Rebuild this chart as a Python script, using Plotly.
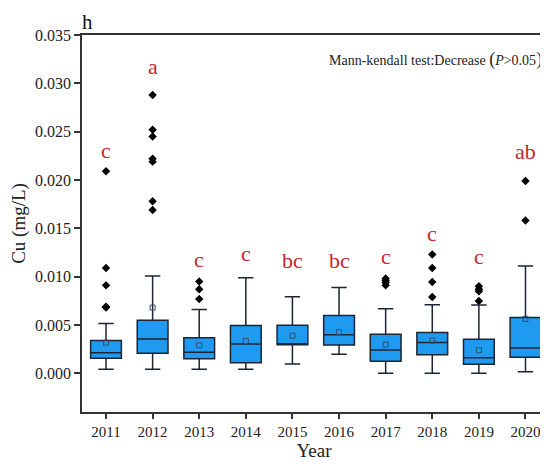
import plotly.graph_objects as go

years = ["2011", "2012", "2013", "2014", "2015", "2016", "2017", "2018", "2019", "2020"]
q1 = [0.00156, 0.00208, 0.00152, 0.00110, 0.00296, 0.00294, 0.00125, 0.00193, 0.00093, 0.00166]
median = [0.00214, 0.00356, 0.00218, 0.00304, 0.00296, 0.00398, 0.00242, 0.00318, 0.00162, 0.00263]
q3 = [0.00339, 0.00550, 0.00367, 0.00494, 0.00498, 0.00598, 0.00405, 0.00422, 0.00353, 0.00577]
lower = [0.00042, 0.00042, 0.00042, 0.00042, 0.00097, 0.00197, 0.00000, 0.00000, 0.00000, 0.00017]
upper = [0.00515, 0.01007, 0.00660, 0.00990, 0.00792, 0.00889, 0.00668, 0.00709, 0.00706, 0.01110]
means = [0.00318, 0.00680, 0.00290, 0.00335, 0.00390, 0.00426, 0.00297, 0.00339, 0.00239, 0.00564]
outliers = [
    [0.0209, 0.0109, 0.0091, 0.0069, 0.0068],
    [0.0288, 0.0252, 0.0245, 0.0222, 0.0219, 0.0178, 0.0169],
    [0.0095, 0.0087, 0.0077],
    [],
    [],
    [],
    [0.0098, 0.0096, 0.0094, 0.0091],
    [0.0123, 0.0109, 0.00945, 0.0079],
    [0.0090, 0.0087, 0.0085, 0.00748],
    [0.0199, 0.0158],
]
letters = ["c", "a", "c", "c", "bc", "bc", "c", "c", "c", "ab"]
letter_y = [0.0231, 0.0317, 0.0118, 0.0124, 0.0117, 0.0117, 0.0121, 0.0145, 0.0121, 0.0229]

FONT = "Liberation Serif, Times New Roman, serif"
BOX_FILL = "#1E9BF0"
EDGE = "#1c2533"
RED = "#C3282E"

fig = go.Figure()
xs = list(range(len(years)))
for i in xs:
    fig.add_trace(go.Box(
        x=[i], q1=[q1[i]], median=[median[i]], q3=[q3[i]],
        lowerfence=[lower[i]], upperfence=[upper[i]],
        width=0.66, whiskerwidth=0.5, boxpoints=False,
        fillcolor=BOX_FILL, line=dict(color=EDGE, width=1.5),
        showlegend=False, hoverinfo="skip",
    ))
    if outliers[i]:
        fig.add_trace(go.Scatter(
            x=[i] * len(outliers[i]), y=outliers[i], mode="markers",
            marker=dict(symbol="diamond", size=6.5, color="black"),
            showlegend=False,
        ))

fig.add_trace(go.Scatter(
    x=xs, y=means, mode="markers",
    marker=dict(symbol="square-open", size=5, color="#3a4a66", line=dict(width=1)),
    showlegend=False,
))

for i in xs:
    fig.add_annotation(x=i, y=letter_y[i], text=letters[i], showarrow=False,
                       font=dict(family=FONT, size=22, color=RED))

fig.add_annotation(xref="paper", yref="paper", x=0.995, y=0.935, xanchor="right", yanchor="middle",
                   text="Mann-kendall test:Decrease <span style='font-size:18px'>(</span><i>P</i>>0.05<span style='font-size:18px'>)</span>",
                   showarrow=False, font=dict(family=FONT, size=14, color="#222"))
fig.add_annotation(xref="paper", yref="paper", x=-0.005, y=1 + 27 / 377, xanchor="left", yanchor="top",
                   text="h", showarrow=False, font=dict(family=FONT, size=21, color="#111"))

# right frame (lighter)
fig.add_shape(type="line", xref="paper", yref="paper", x0=1, x1=1, y0=0, y1=1,
              line=dict(color="#9a9a9a", width=1))

fig.update_layout(
    width=540, height=460,
    margin=dict(l=74, r=2, t=27, b=56),
    paper_bgcolor="white", plot_bgcolor="white",
    font=dict(family=FONT, color="#222"),
)
fig.update_xaxes(
    range=[-0.515, 9.44], tickmode="array", tickvals=xs, ticktext=years,
    showline=True, linecolor="#333", linewidth=1.5, mirror=True,
    ticks="outside", ticklen=5, tickcolor="#333", tickwidth=1.5,
    showgrid=False, zeroline=False,
    tickfont=dict(family=FONT, size=15, color="#222"),
    title=dict(text="Year", font=dict(family=FONT, size=19, color="#222"), standoff=4),
)
fig.update_yaxes(
    range=[-0.004, 0.035], tick0=0, dtick=0.005, tickformat=".3f",
    showline=True, linecolor="#333", linewidth=1.5,
    ticks="outside", ticklen=6, tickcolor="#333", tickwidth=1.5,
    showgrid=False, zeroline=False,
    tickfont=dict(family=FONT, size=16, color="#222"),
    title=dict(text="Cu (mg/L)", font=dict(family=FONT, size=19, color="#222"), standoff=6),
)

fig.write_html("out.html")
